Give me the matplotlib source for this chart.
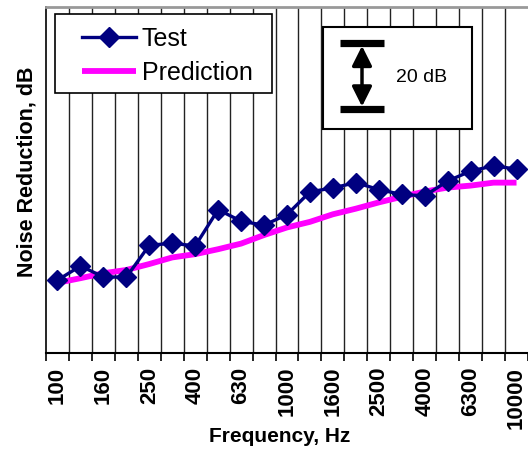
import matplotlib
matplotlib.use("Agg")
import matplotlib.pyplot as plt
import matplotlib.transforms as mtransforms
from matplotlib.patches import Rectangle
import numpy as np

plt.rcParams['font.family'] = ['Liberation Sans', 'DejaVu Sans']

freqs = ["100", "125", "160", "200", "250", "315", "400", "500", "630", "800",
         "1000", "1250", "1600", "2000", "2500", "3150", "4000", "5000", "6300",
         "8000", "10000"]
test = [22.1, 26.4, 23.1, 23.0, 32.7, 33.3, 32.5, 43.5, 40.0, 38.8,
        42.0, 48.9, 50.1, 51.7, 49.6, 48.1, 47.7, 52.2, 55.2, 56.8, 55.8]
prediction = [21.3, 22.7, 24.2, 25.2, 27.0, 29.0, 30.0, 31.5, 33.2, 35.8,
              38.1, 39.8, 42.1, 43.8, 45.7, 47.4, 49.0, 50.2, 50.8, 51.7, 51.7]

fig = plt.figure(figsize=(5.28, 4.5), dpi=100)
ax = fig.add_axes([46/528, 1 - 353/450, 1 - 46/528, 346/450])

x = np.arange(len(freqs))
ax.plot(x, prediction, color='#FF00FF', lw=4.2, zorder=3, label='Prediction',
        solid_capstyle='butt')
ax.plot(x, test, color='#000080', lw=2.4, marker='D', ms=10, mec='#000080',
        mfc='#000080', zorder=4, label='Test')

ax.set_xlim(-0.5, -0.5 + (528 - 46) / 23.0)
ax.set_ylim(0, 105)

# boundaries between categories (Excel style)
bounds = np.arange(len(freqs) + 1) - 0.5
ax.set_xticks(bounds)
ax.set_xticklabels([])
ax.tick_params(axis='x', which='major', direction='out', length=6, width=1.2,
               color='black')
ax.set_xticks(x[::2], minor=True)
ax.set_xticklabels(freqs[::2], minor=True, rotation=90, fontsize=16,
                   fontweight='bold', va='top')
ax.tick_params(axis='x', which='minor', length=0, pad=10)
ax.set_yticks([])
for b in bounds[1:-1]:
    ax.axvline(b, color='#222222', lw=1.0, zorder=1)

ax.spines['top'].set_color('#999999')
ax.spines['top'].set_linewidth(2)
ax.spines['right'].set_visible(False)
ax.spines['left'].set_linewidth(1.2)
ax.spines['bottom'].set_linewidth(1.5)

fig.text(27/528, 1 - 172/450, 'Noise Reduction, dB', rotation=90, ha='center',
         va='center', fontsize=15.5, fontweight='bold')
fig.text(280/528, 1 - 437/450, 'Frequency, Hz', ha='center', va='center',
         fontsize=15, fontweight='bold')

# legend frame drawn separately for Excel-like padding
ax.add_patch(Rectangle((55/528, 1 - 93/450), (272 - 55)/528, (93 - 14)/450,
                       transform=fig.transFigure, facecolor='white',
                       edgecolor='black', lw=1.2, zorder=9, clip_on=False))
handles, labels = ax.get_legend_handles_labels()
leg = ax.legend(handles[::-1], labels[::-1], loc='upper left',
                bbox_to_anchor=(82/528, 1 - 27/450), bbox_transform=fig.transFigure,
                borderaxespad=0, borderpad=0, fontsize=18, frameon=False,
                handlelength=2.16, handletextpad=0.24, labelspacing=0.4)
leg.set_zorder(10)

# 20 dB scale box
bx0, bx1 = (323 - 46) / 482, (472 - 46) / 482
by0, by1 = (353 - 129) / 346, (353 - 27) / 346
ax.add_patch(Rectangle((bx0, by0), bx1 - bx0, by1 - by0, transform=ax.transAxes,
                       facecolor='white', edgecolor='black', lw=1.5, zorder=10))
bar_x0, bar_x1 = (340 - 46) / 482, (384 - 46) / 482
xmid = (bar_x0 + bar_x1) / 2
ytop, ybot = 94, 74
blend = mtransforms.blended_transform_factory(ax.transAxes, ax.transData)
ax.plot([bar_x0, bar_x1], [ytop, ytop], color='black', lw=5.2, transform=blend,
        zorder=11, solid_capstyle='butt')
ax.plot([bar_x0, bar_x1], [ybot, ybot], color='black', lw=5.2, transform=blend,
        zorder=11, solid_capstyle='butt')
ax.annotate('', xy=(xmid, ybot + 0.8), xytext=(xmid, ytop - 0.8),
            xycoords=blend, textcoords=blend,
            arrowprops=dict(arrowstyle='<|-|>', color='black', lw=2.5,
                            mutation_scale=30, shrinkA=0, shrinkB=0),
            zorder=12)
ax.text((422 - 46) / 482, (353 - 78) / 346, '20 dB', transform=ax.transAxes,
        ha='center', va='center', fontsize=14, zorder=12)

fig.savefig('out.png', dpi=100)
